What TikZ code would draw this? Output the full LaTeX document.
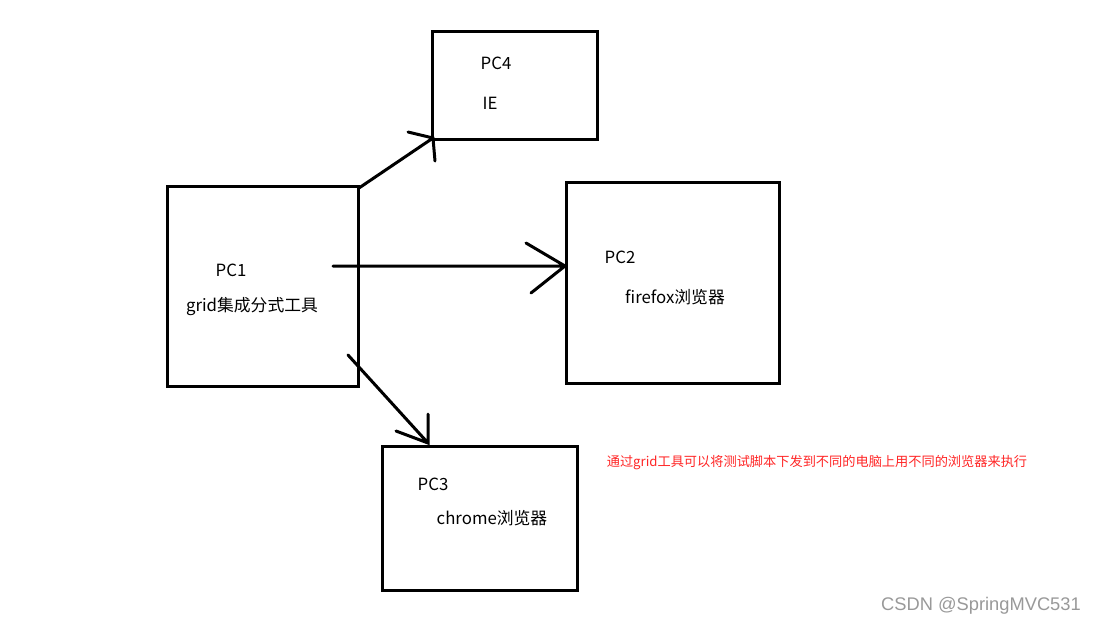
\documentclass[tikz,border=0pt]{standalone}
\usepackage{fontspec}
\setmainfont{Noto Sans CJK SC}
\newfontfamily\wmfont{Liberation Sans}
\begin{document}
\begin{tikzpicture}[x=1pt,y=-1pt,
  box/.style={draw=black,line width=3pt,minimum width=#1},
  lbl/.style={font=\fontsize{16.8}{20}\selectfont,inner sep=0pt,anchor=center},
  conn/.style={draw=black,line width=3pt,line cap=round}]
\useasboundingbox (0,0) rectangle (1098,625);
\fill[white] (0,0) rectangle (1098,625);
% boxes
\node[box=165pt,minimum height=108pt] (pc4) at (514.5,85) {};
\node[box=191pt,minimum height=200pt] (pc1) at (262.5,286) {};
\node[box=213pt,minimum height=201pt] (pc2) at (672.5,282.5) {};
\node[box=195pt,minimum height=144pt] (pc3) at (479.5,518) {};
% labels
\node[lbl] (t4a) at (496,63) {PC4};
\node[lbl] (t4b) at (490,103) {IE};
\node[lbl] (t1a) at (231,270) {PC1};
\node[lbl] (t1b) at (252,307) {grid集成分式工具};
\node[lbl] (t2a) at (620,257) {PC2};
\node[lbl] (t2b) at (675,297) {firefox浏览器};
\node[lbl] (t3a) at (433,484) {PC3};
\node[lbl] (t3b) at (492,518) {chrome浏览器};
\node[inner sep=0pt,text=red!85!white,font=\fontsize{13.2}{16}\selectfont] (note) at (817,463) {通过grid工具可以将测试脚本下发到不同的电脑上用不同的浏览器来执行};
\node[inner sep=0pt,text=black!40,font=\wmfont\fontsize{18.3}{21}\selectfont] (wm) at (981,606) {CSDN @SpringMVC531};
% arrows (hand drawn)
\coordinate (a1s) at (359,188);
\coordinate (a1t) at (433,138);
\coordinate (a1b1) at (408,132);
\coordinate (a1b2) at (435,161);
\draw[conn] (a1s) -- (a1t) (a1b1) -- (a1t) -- (a1b2);
\coordinate (a2s) at (333,266);
\coordinate (a2t) at (565,266);
\coordinate (a2b1) at (526,243);
\coordinate (a2b2) at (531,293);
\draw[conn] (a2s) -- (a2t) (a2b1) -- (a2t) -- (a2b2);
\coordinate (a3s) at (348,355);
\coordinate (a3t) at (428,443);
\coordinate (a3b1) at (396,431);
\coordinate (a3b2) at (428,414);
\draw[conn] (a3s) -- (a3t) (a3b1) -- (a3t) -- (a3b2);
\end{tikzpicture}
\end{document}
